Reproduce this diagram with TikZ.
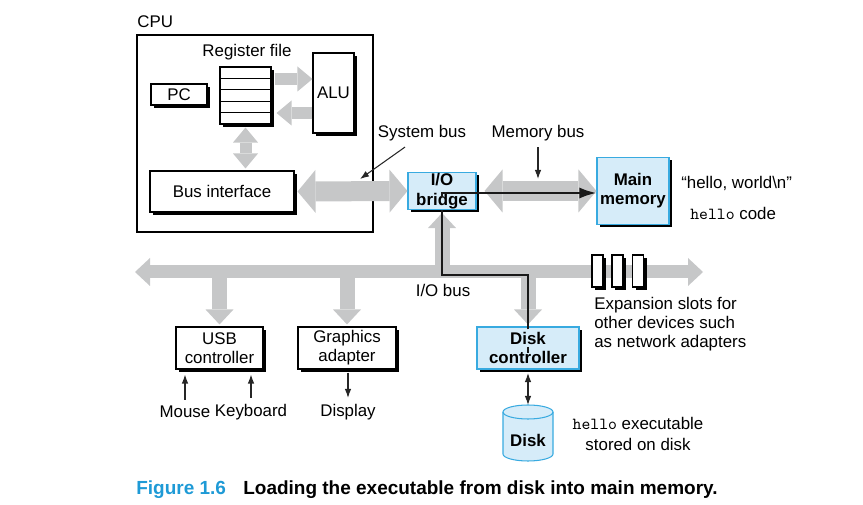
\documentclass[tikz,border=0pt]{standalone}
\usepackage{fontspec}
\setmainfont{Liberation Sans}
\usetikzlibrary{arrows.meta,shadows,calc}
\definecolor{busgray}{RGB}{198,199,200}
\definecolor{boxblue}{RGB}{214,236,249}
\definecolor{lineblue}{RGB}{56,170,224}
\definecolor{figblue}{RGB}{30,154,214}
\newcommand{\diagfont}{\fontsize{9.6}{10.8}\selectfont}
\newcommand{\capfont}{\fontsize{10.8}{13}\selectfont\bfseries}
\tikzset{>=latex}
\tikzset{
  unit/.style={draw, line width=0.6pt, fill=white, inner sep=0pt, align=center,
    general shadow={fill=black, shadow xshift=0.6mm, shadow yshift=-0.6mm}},
  hot/.style={unit, draw=lineblue, fill=boxblue, font=\diagfont\bfseries},
  cpuhead/.tip={Triangle[length=3mm,width=5mm,line width=0pt]},
  bushead/.tip={Triangle[length=3.6mm,width=8.6mm,line width=0pt]},
  iohead/.tip={Triangle[length=3mm,width=5.6mm,line width=0pt]},
  ptip/.tip={Latex[length=1.8mm,width=1.3mm]},
  cpuflow/.style={draw=busgray, line width=2.4mm},
  sysflow/.style={draw=busgray, line width=4mm},
  ioflow/.style={draw=busgray, line width=3mm},
  pointer/.style={draw=black!85, line width=0.6pt, -{ptip}},
  datapath/.style={draw=black!90, line width=1.3pt},
}

\begin{document}
\begin{tikzpicture}[x=0.2mm, y=-0.2mm, font=\diagfont]
    \useasboundingbox (0,0) rectangle (863,505);

    % CPU
    \node[draw, line width=1.2pt, minimum width=47.2mm, minimum height=39.4mm] (cpu) at (255,133.5) {};
    \node[anchor=west, inner sep=0] (cpulabel) at (137,22) {CPU};
    \node (reglabel) at (247,52) {Register file};
    \node[unit, minimum width=10.2mm, minimum height=11.4mm] (regfile) at (245.5,95.5) {};
    \foreach \i in {1,...,4}
        \draw[line width=0.6pt] ($(regfile.north west)!\i/5!(regfile.south west)$) -- ($(regfile.north east)!\i/5!(regfile.south east)$);
    \node[unit, minimum width=11.2mm, minimum height=4.2mm] (pc) at (179,94.5) {PC};
    \node[unit, minimum width=8.2mm, minimum height=16mm] (alu) at (333.5,93) {ALU};
    \node[unit, minimum width=28.8mm, minimum height=8.2mm] (busif) at (222,191.5) {Bus interface};

    % bridge and memory
    \node[hot, minimum width=13.6mm, minimum height=7.4mm] (bridge) at (442,191) {I/O\\[0.6pt]bridge};
    \node[hot, minimum width=14.4mm, minimum height=13.4mm] (mem) at (633,191) {Main\\memory};
    \node[anchor=west, inner sep=0] (msg) at (681,183) {“hello, world\textbackslash n”};
    \node[anchor=west, inner sep=0] (code) at (690,213) {\texttt{hello} code};

    % devices
    \node[unit, minimum width=17.4mm, minimum height=8.4mm] (usb) at (219.5,348) {USB\\controller};
    \node[unit, minimum width=19.6mm, minimum height=8.4mm] (gfx) at (347,348) {Graphics\\adapter};
    \node[hot, minimum width=20.4mm, minimum height=8.4mm] (dc) at (528,348) {Disk\\controller};

    % disk
    \filldraw[draw=lineblue, fill=boxblue, line width=0.6pt] (503,412) -- (503,454)
        arc[start angle=180, end angle=360, x radius=5mm, y radius=1.4mm] -- (553,412)
        arc[start angle=0, end angle=180, x radius=5mm, y radius=1.4mm] -- cycle;
    \draw[draw=lineblue, line width=0.6pt] (503,412) arc[start angle=180, end angle=360, x radius=5mm, y radius=1.4mm];
    \coordinate (disktop) at (528,405);
    \node[font=\diagfont\bfseries] (disk) at (528,440) {Disk};
    \node[align=center] (disktext) at (638,434) {\texttt{hello} executable\\[1pt]stored on disk};
    \node (mouse) at (185,412) {Mouse};
    \node (kbd) at (251,412) {Keyboard};
    \node (display) at (348,412) {Display};

    % gray buses
    \draw[cpuflow, -{cpuhead}] ([xshift=0.6mm,yshift=3.3mm]regfile.east) -- ([yshift=3.3mm]regfile.east -| alu.west);
    \draw[cpuflow, -{cpuhead}] ([yshift=-3.5mm]regfile.east -| alu.west) -- ([xshift=1mm,yshift=-3.5mm]regfile.east);
    \draw[cpuflow, {cpuhead}-{cpuhead}] ([yshift=-0.6mm]regfile.south) -- ([yshift=0.4mm]regfile.south |- busif.north);
    \draw[sysflow, {bushead}-{bushead}] ([xshift=0.6mm]busif.east) -- (bridge.west);
    \draw[sysflow, {bushead}-{bushead}] ([xshift=1.6mm]bridge.east) -- (mem.west);

    \coordinate (busL) at (135,272);
    \coordinate (busR) at (703,272);
    \draw[ioflow, line width=2.6mm, {iohead}-{iohead}] (busL) -- (busR);
    \draw[ioflow, -{iohead}] (bridge.south |- busL) -- ([yshift=-0.6mm]bridge.south);
    \draw[ioflow, -{iohead}] (usb.north |- busL) -- ([yshift=0.4mm]usb.north);
    \draw[ioflow, -{iohead}] (gfx.north |- busL) -- ([yshift=0.4mm]gfx.north);
    \draw[ioflow, -{iohead}] (dc.north |- busL) -- ([yshift=0.4mm]dc.north);
    \node (iobus) at (443,290) {I/O bus};

    % expansion slots
    \foreach \i/\x in {1/597.5,2/617.5,3/638}
        \node[unit, minimum width=2.2mm, minimum height=6.4mm] (slot\i) at (\x,271) {};
    \node[anchor=north west, align=left, inner sep=0] (slottext) at (594,297) {Expansion slots for\\other devices such\\as network adapters};

    % labels with pointers
    \node (syslabel) at (422,133) {System bus};
    \node (memlabel) at (538,133) {Memory bus};
    \coordinate (syspt) at (360,179);
    \coordinate (mempt) at (538,179);
    \draw[pointer] ([xshift=-3.4mm]syslabel.south) -- (syspt);
    \draw[pointer] (memlabel.south) -- (mempt);

    % data path disk -> memory
    \draw[datapath] ([yshift=-0.6mm]dc.north) -- ([yshift=-0.6mm]dc.north |- busL) -| (bridge.south);
    \draw[datapath, -{Latex[length=3.4mm,width=2.2mm]}] ([yshift=-1.3mm]bridge.center) -- ([yshift=-0.4mm]bridge.center) -- ([yshift=-0.4mm]mem.west |- bridge.center);
    \draw[datapath] ([yshift=0.2mm]dc.center) -- ([yshift=-1mm]dc.center);

    % small arrows
    \draw[pointer] (mouse.north) -- ([yshift=-1mm]mouse.north |- usb.south);
    \draw[pointer] (kbd.north) -- ([yshift=-1mm]kbd.north |- usb.south);
    \draw[pointer] ([yshift=-0.6mm]display.north |- gfx.south) -- (display.north);
    \draw[pointer, {ptip}-{ptip}] ([yshift=-0.7mm]dc.south) -- (disktop);

    % caption
    \node[anchor=west, inner sep=0, font=\capfont, text=figblue] (fignum) at (136,490) {Figure 1.6};
    \node[anchor=west, inner sep=0, font=\capfont] (figtitle) at (243,490) {Loading the executable from disk into main memory.};
\end{tikzpicture}
\end{document}
